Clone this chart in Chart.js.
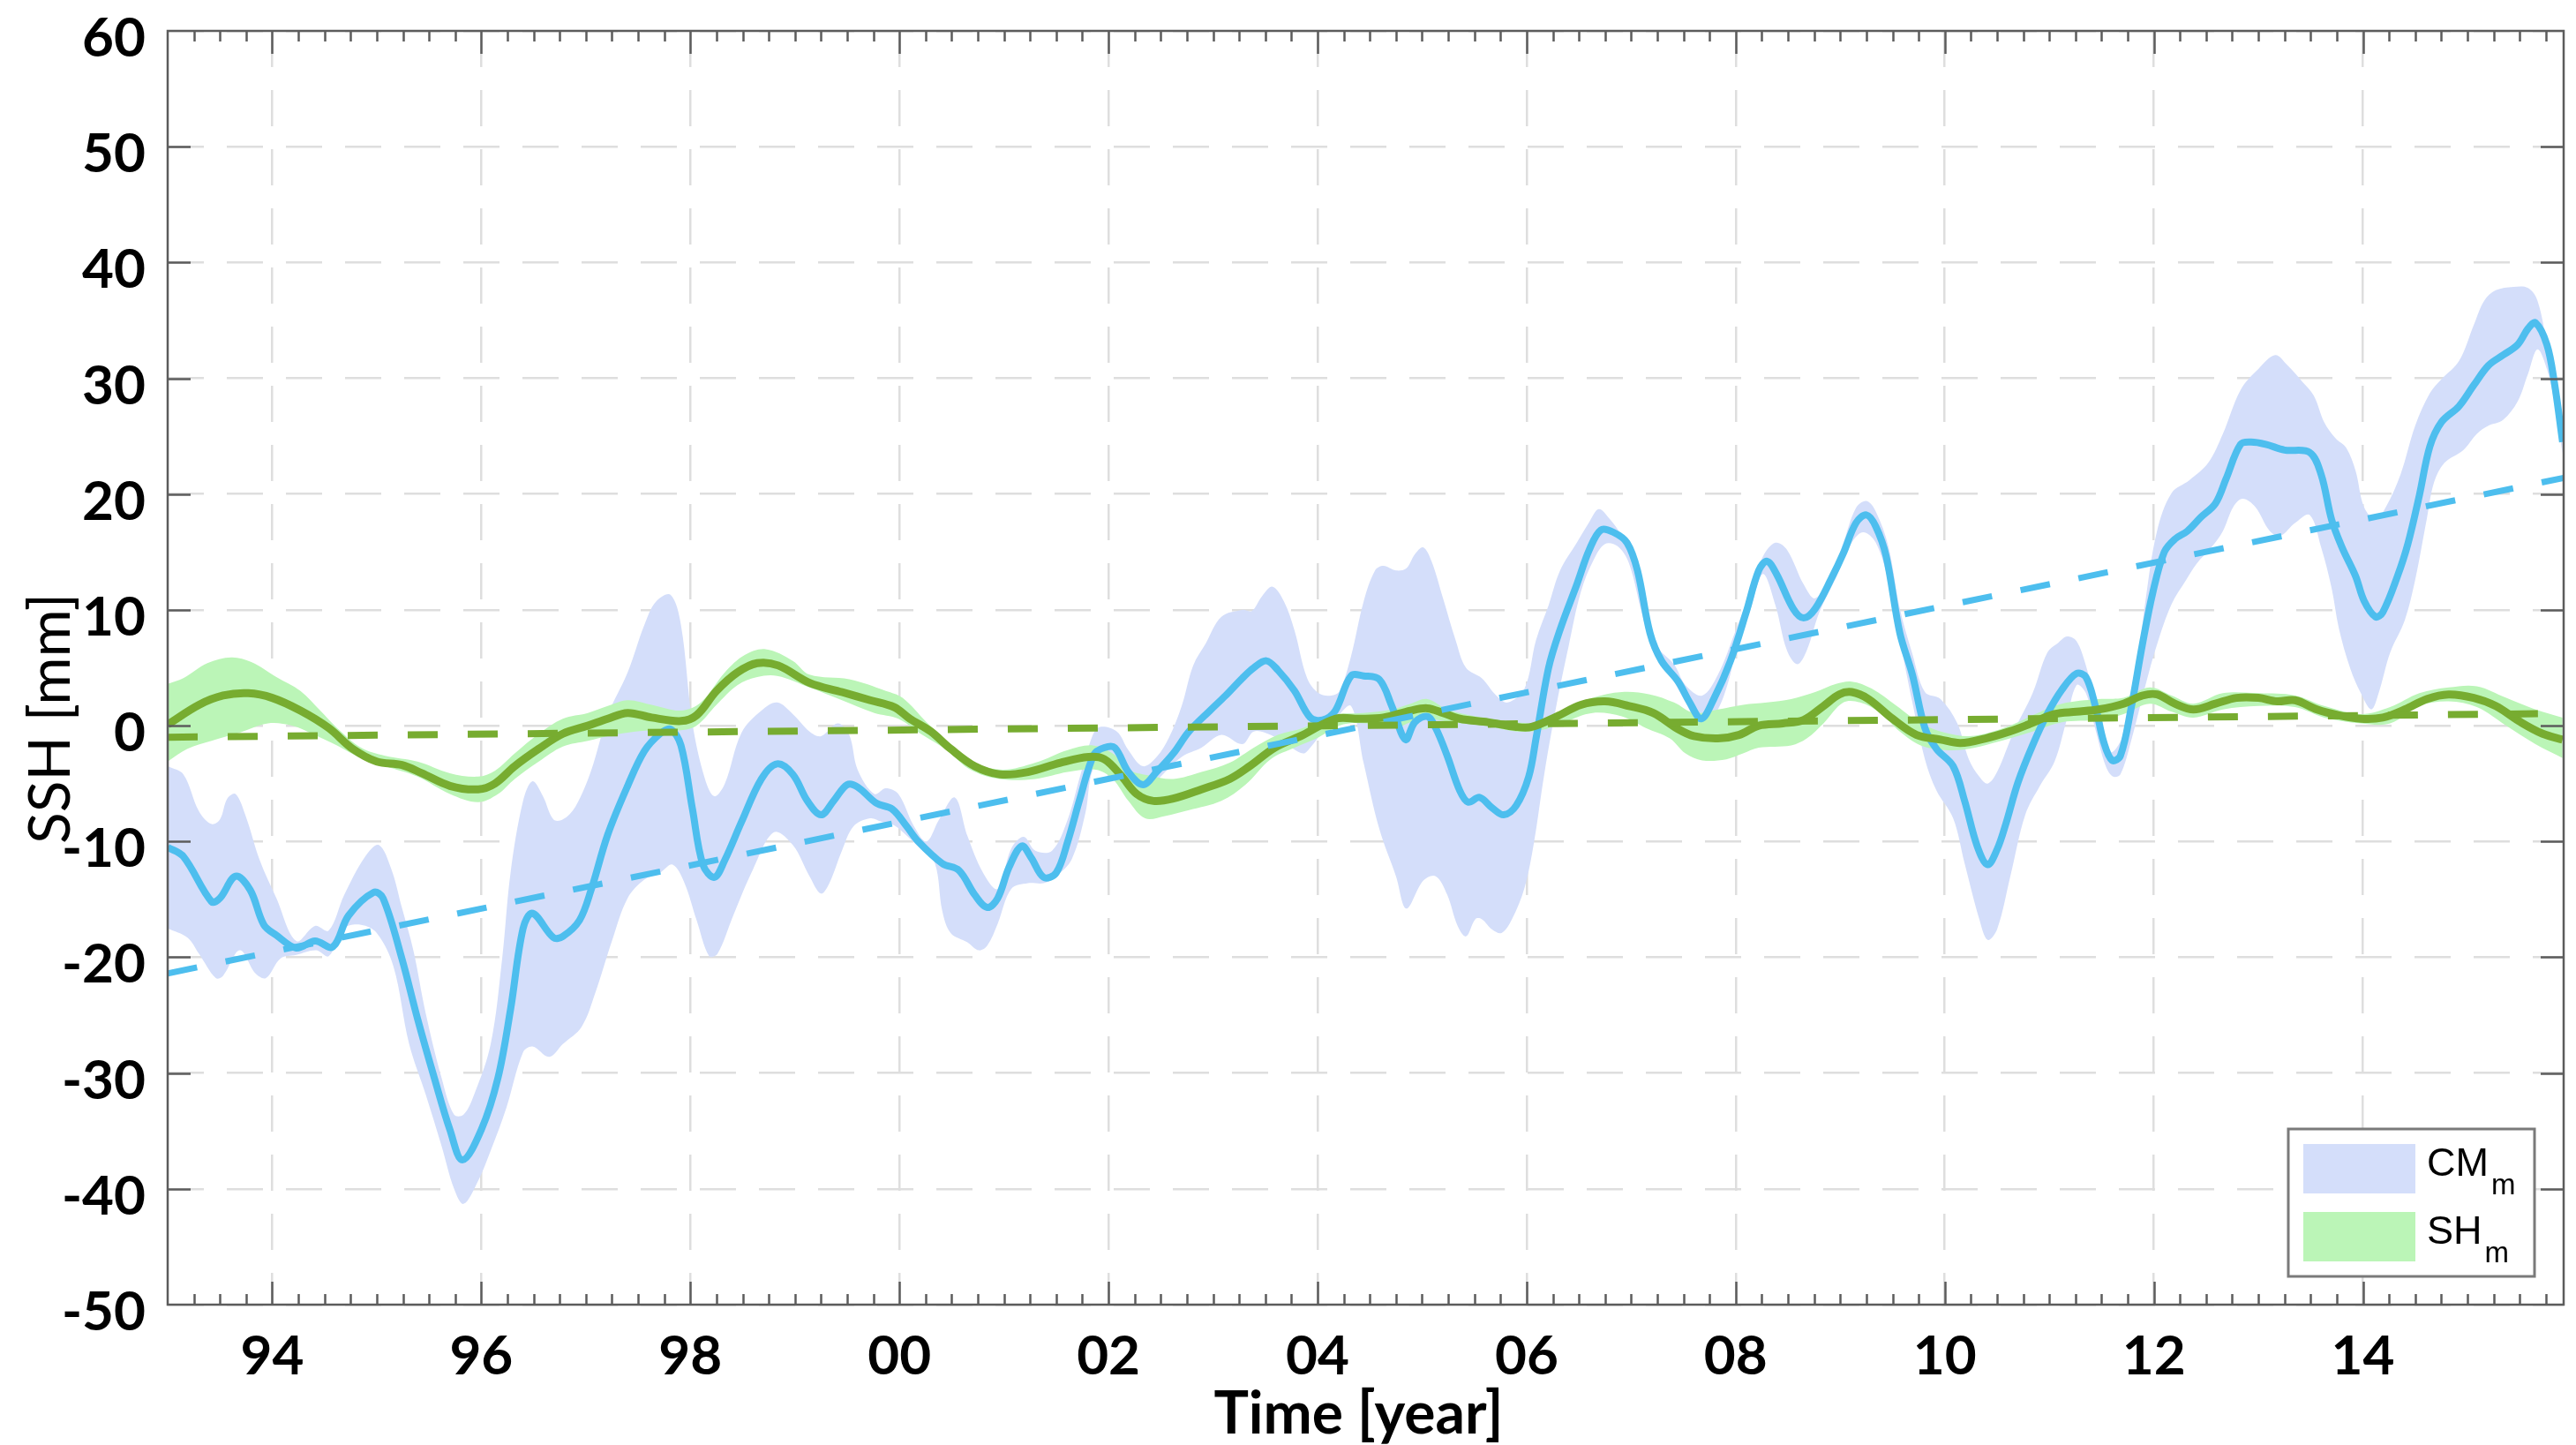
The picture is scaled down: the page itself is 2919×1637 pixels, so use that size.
<!DOCTYPE html>
<html>
<head>
<meta charset="utf-8">
<script src="https://cdn.jsdelivr.net/npm/chart.js@4.4.1/dist/chart.umd.min.js"></script>
<style>
  html, body { margin: 0; padding: 0; background: #fff; }
  #wrap { width: 2919px; height: 1637px; position: relative; }
</style>
</head>
<body>
<div id="wrap"><canvas id="ssh"></canvas></div>
<script>
// CM_m mean curve (decimal year, mm)
const cmYears = [1993.00,1993.15,1993.42,1993.50,1993.65,1993.79,1993.92,1994.04,1994.23,1994.41,1994.58,1994.73,1994.97,1995.06,1995.24,1995.39,1995.55,1995.70,1995.82,1996.00,1996.16,1996.28,1996.40,1996.49,1996.69,1996.78,1996.94,1997.05,1997.21,1997.40,1997.56,1997.71,1997.81,1997.91,1998.02,1998.12,1998.23,1998.33,1998.49,1998.68,1998.83,1998.98,1999.12,1999.25,1999.37,1999.50,1999.60,1999.78,1999.93,2000.07,2000.18,2000.41,2000.57,2000.72,2000.84,2000.94,2001.05,2001.17,2001.26,2001.38,2001.50,2001.61,2001.73,2001.86,2001.96,2002.06,2002.19,2002.33,2002.46,2002.62,2002.77,2002.97,2003.12,2003.28,2003.39,2003.51,2003.62,2003.78,2003.93,2004.05,2004.17,2004.32,2004.44,2004.59,2004.71,2004.84,2004.93,2005.05,2005.13,2005.24,2005.36,2005.44,2005.55,2005.67,2005.78,2005.90,2006.02,2006.09,2006.21,2006.32,2006.48,2006.60,2006.71,2006.83,2006.96,2007.06,2007.18,2007.29,2007.45,2007.56,2007.67,2007.79,2007.95,2008.10,2008.22,2008.30,2008.39,2008.55,2008.65,2008.76,2008.92,2009.03,2009.15,2009.25,2009.34,2009.44,2009.57,2009.69,2009.81,2009.92,2010.08,2010.19,2010.31,2010.41,2010.50,2010.58,2010.70,2010.84,2010.98,2011.12,2011.26,2011.35,2011.44,2011.52,2011.60,2011.68,2011.78,2011.89,2011.99,2012.10,2012.20,2012.32,2012.45,2012.59,2012.69,2012.83,2012.93,2013.07,2013.25,2013.49,2013.60,2013.70,2013.80,2013.93,2014.01,2014.12,2014.19,2014.33,2014.43,2014.54,2014.64,2014.75,2014.92,2015.06,2015.20,2015.34,2015.48,2015.58,2015.65,2015.76,2015.83,2015.91];
const cmValues = [-10.5,-11.3,-15.2,-14.9,-13.0,-14.2,-17.2,-18.1,-19.2,-18.6,-19.1,-16.4,-14.4,-14.9,-20.1,-25.3,-30.4,-34.9,-37.5,-34.9,-30.4,-24.5,-17.5,-16.2,-18.3,-18.2,-16.8,-14.2,-9.4,-5.2,-2.2,-0.7,-0.3,-1.7,-7.2,-12.0,-13.1,-11.6,-8.3,-4.6,-3.3,-4.2,-6.5,-7.7,-6.5,-5.1,-5.3,-6.7,-7.2,-8.7,-10.0,-11.9,-12.5,-14.6,-15.7,-14.9,-12.2,-10.4,-11.4,-13.1,-12.7,-10.0,-6.2,-2.5,-1.9,-1.9,-4.0,-5.1,-4.0,-2.4,-0.5,1.3,2.6,4.1,5.0,5.6,4.8,3.0,0.7,0.5,1.3,4.3,4.3,4.0,1.7,-1.2,0.3,0.8,-0.2,-2.6,-5.6,-6.6,-6.2,-7.1,-7.7,-6.9,-4.4,-1.1,5.0,8.3,12.2,15.2,16.9,16.7,15.8,13.4,8.0,5.6,3.8,2.0,0.6,2.3,5.6,9.8,13.4,14.2,13.1,10.1,9.3,10.1,12.8,14.9,17.5,18.2,17.2,14.6,8.0,4.4,-0.2,-2.0,-3.5,-6.5,-10.4,-12.0,-10.7,-8.6,-4.9,-1.7,1.0,3.1,4.5,4.2,1.7,-1.4,-3.0,-2.6,1.4,7.0,11.5,15.0,16.1,16.8,18.0,19.2,21.3,24.3,24.5,24.3,23.8,23.6,21.7,17.8,15.4,12.9,10.8,9.4,9.8,12.9,15.7,19.9,24.1,26.2,27.6,29.4,31.1,32.0,32.9,34.3,34.8,32.9,29.7,24.5];

// CM_m envelope, upper edge
const cmUpYears = [1993.00,1993.15,1993.30,1993.42,1993.50,1993.57,1993.65,1993.75,1993.88,1994.04,1994.23,1994.41,1994.54,1994.69,1994.89,1995.02,1995.14,1995.24,1995.35,1995.47,1995.62,1995.74,1995.83,1995.93,1996.09,1996.20,1996.28,1996.40,1996.49,1996.59,1996.69,1996.78,1996.90,1997.05,1997.21,1997.40,1997.56,1997.67,1997.81,1997.91,1998.02,1998.14,1998.23,1998.33,1998.49,1998.68,1998.83,1998.98,1999.14,1999.25,1999.41,1999.52,1999.60,1999.76,1999.87,1999.99,2000.14,2000.26,2000.38,2000.53,2000.65,2000.80,2000.94,2001.07,2001.19,2001.30,2001.46,2001.61,2001.73,2001.85,2001.92,2002.08,2002.19,2002.33,2002.46,2002.58,2002.70,2002.81,2002.93,2003.08,2003.28,2003.37,2003.47,2003.57,2003.68,2003.78,2003.90,2004.01,2004.13,2004.21,2004.32,2004.44,2004.55,2004.63,2004.75,2004.85,2004.93,2005.01,2005.09,2005.20,2005.32,2005.42,2005.57,2005.71,2005.82,2005.98,2006.09,2006.21,2006.32,2006.48,2006.60,2006.69,2006.79,2006.91,2007.02,2007.14,2007.25,2007.41,2007.52,2007.68,2007.83,2007.99,2008.14,2008.26,2008.38,2008.49,2008.65,2008.76,2008.92,2009.03,2009.15,2009.25,2009.34,2009.46,2009.57,2009.69,2009.81,2009.96,2010.12,2010.23,2010.33,2010.41,2010.50,2010.66,2010.84,2010.98,2011.09,2011.17,2011.26,2011.35,2011.44,2011.54,2011.60,2011.71,2011.82,2011.92,2012.03,2012.17,2012.34,2012.52,2012.66,2012.83,2013.00,2013.16,2013.28,2013.42,2013.53,2013.63,2013.74,2013.84,2013.93,2014.01,2014.12,2014.22,2014.36,2014.50,2014.64,2014.75,2014.92,2015.06,2015.16,2015.27,2015.44,2015.58,2015.67,2015.76,2015.83,2015.91];
const cmUpValues = [-3.5,-4.2,-7.4,-8.5,-8.1,-6.3,-5.9,-7.9,-11.6,-14.9,-18.6,-17.3,-17.7,-14.6,-11.3,-10.3,-12.4,-15.7,-19.4,-24.9,-30.4,-33.6,-33.6,-31.9,-27.5,-20.1,-12.7,-6.5,-4.8,-6.1,-8.1,-8.1,-7.0,-3.9,0.9,4.6,8.7,10.7,11.3,8.7,0.2,-4.6,-6.1,-5.0,-0.6,1.3,2.0,1.0,-0.5,-0.9,0.2,-0.8,-3.8,-5.9,-5.4,-5.9,-8.7,-10.0,-8.1,-6.2,-9.5,-12.7,-14.1,-10.6,-9.6,-10.8,-10.8,-8.1,-4.3,-0.8,-0.1,-0.5,-2.1,-3.5,-2.7,-1.0,1.7,5.2,7.1,9.4,10.0,9.9,11.2,12.0,10.7,8.2,4.1,2.8,2.6,3.0,6.0,10.7,13.4,13.8,13.4,13.6,14.8,15.4,14.2,11.0,7.4,5.0,4.1,2.6,2.0,3.2,7.4,10.4,13.4,15.8,17.6,18.7,17.9,16.4,14.3,9.2,6.8,5.3,3.5,2.6,4.4,8.0,11.6,14.6,15.8,15.2,12.2,11.0,13.1,15.8,18.8,19.4,18.5,15.5,10.1,6.2,2.9,2.3,0.2,-2.9,-4.4,-5.0,-4.0,-0.5,2.8,6.3,7.2,7.7,7.3,5.2,2.1,-1.4,-2.3,-0.7,3.8,10.8,16.8,20.1,21.2,22.7,25.2,29.0,30.8,32.0,31.1,29.7,28.5,26.2,24.8,24.0,22.0,18.9,17.8,18.9,21.7,25.9,28.7,29.9,31.5,34.6,36.7,37.6,37.9,37.8,36.7,32.9,29.0,25.5];

// CM_m envelope, lower edge
const cmLoYears = [1993.00,1993.19,1993.30,1993.46,1993.53,1993.69,1993.84,1993.94,1994.08,1994.23,1994.42,1994.54,1994.69,1994.85,1995.00,1995.16,1995.31,1995.47,1995.62,1995.74,1995.83,1995.97,1996.09,1996.24,1996.40,1996.49,1996.65,1996.78,1996.96,1997.09,1997.25,1997.40,1997.56,1997.71,1997.83,1997.94,1998.06,1998.18,1998.26,1998.41,1998.60,1998.80,1998.98,1999.14,1999.25,1999.33,1999.45,1999.56,1999.72,1999.83,1999.95,2000.07,2000.22,2000.34,2000.41,2000.49,2000.65,2000.76,2000.84,2000.94,2001.07,2001.23,2001.38,2001.50,2001.65,2001.78,2001.85,2001.96,2002.12,2002.23,2002.35,2002.50,2002.70,2002.89,2003.08,2003.28,2003.39,2003.55,2003.70,2003.86,2003.93,2004.05,2004.17,2004.32,2004.44,2004.59,2004.75,2004.85,2005.01,2005.13,2005.24,2005.34,2005.42,2005.51,2005.57,2005.67,2005.76,2005.86,2005.98,2006.07,2006.17,2006.29,2006.40,2006.52,2006.64,2006.75,2006.87,2006.98,2007.10,2007.22,2007.37,2007.52,2007.66,2007.79,2007.91,2008.03,2008.14,2008.26,2008.38,2008.49,2008.59,2008.68,2008.80,2008.96,2009.11,2009.22,2009.34,2009.46,2009.57,2009.69,2009.81,2009.92,2010.08,2010.19,2010.33,2010.41,2010.50,2010.63,2010.77,2010.91,2011.05,2011.16,2011.26,2011.35,2011.44,2011.54,2011.61,2011.68,2011.78,2011.92,2012.03,2012.17,2012.31,2012.41,2012.55,2012.66,2012.76,2012.85,2012.97,2013.11,2013.21,2013.35,2013.49,2013.60,2013.70,2013.77,2013.88,2013.98,2014.08,2014.15,2014.26,2014.40,2014.50,2014.61,2014.68,2014.78,2014.96,2015.09,2015.20,2015.34,2015.48,2015.58,2015.67,2015.76,2015.83,2015.91];
const cmLoValues = [-17.5,-18.3,-19.7,-21.8,-21.6,-19.4,-21.4,-21.8,-20.1,-19.8,-19.4,-19.9,-17.5,-17.2,-17.9,-20.8,-27.5,-31.9,-36.3,-40.0,-41.3,-39.3,-36.7,-33.0,-28.2,-27.7,-28.6,-27.5,-26.0,-23.1,-18.6,-14.9,-13.3,-12.7,-12.0,-13.5,-16.8,-19.9,-19.7,-16.4,-12.4,-9.2,-10.3,-13.0,-14.5,-13.6,-10.8,-8.7,-8.0,-8.3,-8.6,-9.5,-10.8,-11.9,-16.0,-17.9,-18.7,-19.4,-19.0,-17.1,-14.1,-13.6,-13.6,-13.0,-11.5,-7.5,-3.8,-3.5,-4.8,-5.4,-5.8,-4.4,-2.7,-1.9,-0.8,-1.6,-0.5,-0.8,-1.6,-2.4,-1.9,-0.5,0.6,1.7,-3.2,-8.9,-13.0,-15.8,-13.4,-13.0,-14.6,-17.3,-18.2,-16.7,-16.7,-17.6,-17.9,-16.7,-14.0,-10.1,-4.1,2.0,6.8,11.6,14.3,15.7,15.5,14.0,9.8,6.2,4.4,2.0,0.0,0.8,3.2,7.4,10.0,13.1,10.4,6.5,5.3,6.5,9.8,12.8,15.8,16.7,15.8,12.5,7.4,2.0,-2.9,-5.6,-8.0,-11.9,-16.7,-18.5,-17.6,-12.9,-7.7,-5.2,-3.1,0.3,3.5,2.8,-0.3,-3.5,-4.4,-4.2,-1.4,3.5,7.0,10.5,12.6,14.0,15.4,16.8,18.9,19.6,18.9,16.8,16.4,17.5,18.2,15.4,11.9,8.4,4.9,2.8,1.4,2.8,6.3,9.1,12.6,17.8,21.0,22.7,23.8,25.2,25.9,26.4,28.0,30.4,32.5,30.8,28.0,23.5];

// SH_m mean curve
const shYears = [1993.00,1993.30,1993.53,1993.77,1994.00,1994.27,1994.54,1994.77,1995.00,1995.24,1995.43,1995.70,1995.97,1996.13,1996.32,1996.55,1996.78,1997.02,1997.21,1997.40,1997.63,1997.91,1998.06,1998.25,1998.45,1998.64,1998.84,1999.14,1999.45,1999.72,1999.95,2000.10,2000.30,2000.49,2000.72,2000.96,2001.23,2001.54,2001.81,2001.96,2002.12,2002.27,2002.43,2002.62,2002.89,2003.16,2003.35,2003.59,2003.86,2004.17,2004.40,2004.63,2004.89,2005.05,2005.20,2005.36,2005.63,2005.90,2006.05,2006.29,2006.52,2006.75,2006.98,2007.21,2007.45,2007.60,2007.83,2008.03,2008.22,2008.45,2008.65,2008.84,2008.99,2009.11,2009.27,2009.50,2009.73,2009.96,2010.15,2010.39,2010.62,2010.80,2011.05,2011.26,2011.47,2011.71,2011.89,2012.03,2012.20,2012.38,2012.59,2012.79,2013.00,2013.18,2013.35,2013.56,2013.77,2013.98,2014.19,2014.40,2014.61,2014.82,2015.06,2015.27,2015.51,2015.72,2015.91];
const shValues = [0.1,1.8,2.6,2.8,2.4,1.3,-0.2,-2.0,-3.1,-3.4,-4.1,-5.2,-5.5,-5.0,-3.5,-2.0,-0.7,0.0,0.6,1.1,0.7,0.4,0.9,3.0,4.6,5.4,5.2,3.7,2.9,2.2,1.6,0.6,-0.5,-2.0,-3.5,-4.2,-4.0,-3.2,-2.7,-2.9,-4.3,-5.9,-6.5,-6.3,-5.5,-4.6,-3.5,-1.9,-0.8,0.6,0.6,0.7,1.3,1.5,1.1,0.6,0.3,-0.1,-0.1,0.8,1.8,2.1,1.7,1.1,-0.3,-0.9,-1.1,-0.8,0.0,0.2,0.5,1.7,2.7,2.9,2.3,0.6,-0.8,-1.2,-1.5,-1.1,-0.5,0.1,1.0,1.2,1.4,1.9,2.6,2.7,1.9,1.4,1.9,2.4,2.4,2.1,2.2,1.4,0.9,0.6,0.7,1.4,2.3,2.7,2.4,1.7,0.3,-0.7,-1.2];

// SH_m envelope, upper edge
const shUpYears = [1993.00,1993.15,1993.38,1993.61,1993.80,1994.04,1994.27,1994.46,1994.62,1994.85,1995.08,1995.39,1995.70,1995.97,1996.13,1996.32,1996.55,1996.78,1997.02,1997.21,1997.40,1997.63,1997.91,1998.10,1998.33,1998.52,1998.72,1998.98,1999.14,1999.52,1999.87,2000.03,2000.26,2000.49,2000.72,2000.99,2001.30,2001.61,2001.85,2002.04,2002.19,2002.39,2002.62,2002.89,2003.16,2003.39,2003.62,2003.86,2004.13,2004.44,2004.71,2004.89,2005.05,2005.24,2005.51,2005.90,2006.13,2006.36,2006.63,2006.91,2007.18,2007.41,2007.60,2007.83,2008.07,2008.30,2008.53,2008.76,2008.96,2009.11,2009.30,2009.54,2009.77,2010.00,2010.23,2010.46,2010.70,2010.84,2011.12,2011.47,2011.71,2011.96,2012.17,2012.38,2012.66,2013.00,2013.35,2013.63,2013.98,2014.26,2014.54,2014.82,2015.09,2015.37,2015.65,2015.91];
const shUpValues = [3.6,4.1,5.4,5.9,5.5,4.2,3.0,1.3,-0.2,-1.9,-2.6,-3.1,-4.1,-4.4,-3.9,-2.4,-0.7,0.6,1.1,1.7,2.2,1.8,1.3,2.0,4.6,6.1,6.6,5.6,4.4,4.0,3.0,2.4,0.3,-1.6,-3.2,-3.8,-3.2,-2.1,-1.7,-2.4,-3.8,-4.3,-4.6,-4.0,-3.2,-1.9,-0.8,-0.2,0.9,1.1,1.4,1.9,2.3,1.4,0.8,0.3,0.3,1.4,2.4,2.9,2.7,2.0,1.1,1.4,1.8,2.0,2.3,2.9,3.6,3.8,3.2,1.7,0.2,-0.6,-0.9,-0.5,0.3,0.9,1.9,2.3,2.4,3.3,2.6,1.9,2.8,2.8,2.6,1.7,1.0,1.6,2.8,3.3,3.4,2.4,1.4,0.7];

// SH_m envelope, lower edge
const shLoYears = [1993.00,1993.19,1993.42,1993.69,1993.96,1994.19,1994.38,1994.62,1994.85,1995.08,1995.39,1995.70,1995.97,1996.16,1996.32,1996.55,1996.78,1997.02,1997.21,1997.40,1997.63,1997.91,1998.06,1998.25,1998.45,1998.64,1998.83,1999.14,1999.45,1999.76,1999.99,2000.22,2000.45,2000.68,2000.96,2001.30,2001.61,2001.88,2002.04,2002.19,2002.35,2002.54,2002.77,2003.08,2003.31,2003.55,2003.78,2004.01,2004.24,2004.47,2004.74,2004.89,2005.05,2005.28,2005.59,2005.90,2006.13,2006.36,2006.63,2006.91,2007.14,2007.37,2007.52,2007.68,2007.91,2008.07,2008.22,2008.53,2008.68,2008.84,2009.03,2009.19,2009.38,2009.57,2009.77,2010.00,2010.23,2010.46,2010.84,2011.12,2011.47,2011.71,2011.96,2012.17,2012.38,2012.66,2013.00,2013.35,2013.63,2013.98,2014.26,2014.54,2014.82,2015.09,2015.37,2015.65,2015.91];
const shLoValues = [-3.1,-2.0,-1.3,-0.6,0.2,0.0,-0.7,-1.7,-2.8,-3.5,-4.4,-5.9,-6.6,-5.9,-4.6,-3.1,-1.8,-1.3,-0.9,-0.6,-0.4,-0.4,0.0,1.8,3.5,4.2,4.3,3.3,2.2,1.1,0.6,-0.8,-2.1,-3.8,-4.6,-4.6,-4.0,-3.8,-4.6,-6.5,-8.0,-7.8,-7.3,-6.5,-5.1,-2.9,-1.9,-1.0,0.1,0.2,-0.2,0.3,0.6,0.3,0.0,-0.5,-0.4,0.3,1.1,0.8,-0.2,-1.1,-2.4,-3.0,-2.9,-2.4,-1.9,-1.7,-1.1,0.2,2.0,2.0,1.1,-0.5,-1.7,-2.1,-2.0,-1.5,-0.5,0.3,0.5,1.0,1.9,1.2,0.7,1.4,1.7,1.6,0.7,0.2,0.2,1.7,2.1,1.6,0.0,-1.6,-2.8];

// linear trends (start / end of record)
const trendYears = [1993.0, 2015.92];
const cmTrend = [-21.4, 21.4];
const shTrend = [-1.0, 1.05];

// axes
const xMin = 1993.0, xMax = 2015.92;
const yMin = -50, yMax = 60;

const blueLine = '#4dbeee';
const greenLine = '#77ac30';
const blueBand = '#d4defa';
const greenBand = '#bbf5b7';
const axisGray = '#5c5c5c';

const pts = (xs, ys) => xs.map((x, i) => ({ x: x, y: ys[i] }));

// box, inward ticks (quarter-year minors on x), like the matlab axes
const axesBox = {
    id: 'axesBox',
    afterDatasetsDraw(chart) {
        const { ctx, chartArea: a, scales: { x, y } } = chart;
        ctx.save();
        ctx.strokeStyle = axisGray;
        ctx.lineWidth = 2.5;
        ctx.beginPath();
        for (let i = 1; 1993 + i * 0.25 < x.max; i++) {
            const v = 1993 + i * 0.25;
            const px = Math.round(x.getPixelForValue(v)) + 0.5;
            const len = (i % 8 === 4) ? 26 : 12;
            ctx.moveTo(px, a.bottom); ctx.lineTo(px, a.bottom - len);
            ctx.moveTo(px, a.top); ctx.lineTo(px, a.top + len);
        }
        for (let v = yMin + 10; v < yMax; v += 10) {
            const py = Math.round(y.getPixelForValue(v)) + 0.5;
            ctx.moveTo(a.left, py); ctx.lineTo(a.left + 26, py);
            ctx.moveTo(a.right, py); ctx.lineTo(a.right - 26, py);
        }
        ctx.stroke();
        ctx.strokeRect(a.left, a.top, a.right - a.left, a.bottom - a.top);
        ctx.restore();
    },
    afterDraw(chart) {
        const { ctx, chartArea: a } = chart;
        ctx.save();
        // axis titles
        ctx.fillStyle = '#000';
        ctx.textAlign = 'center';
        ctx.textBaseline = 'middle';
        ctx.font = '700 66px Lato';
        ctx.fillText('Time [year]', (a.left + a.right) / 2 - 8, 1603);
        ctx.translate(58, 814);
        ctx.rotate(-Math.PI / 2);
        ctx.font = '400 66px Lato';
        ctx.fillText('SSH [mm]', 0, 0);
        ctx.restore();

        // legend with subscripts
        ctx.save();
        const bx = a.right - 312, by = a.bottom - 199, bw = 279, bh = 167;
        ctx.fillStyle = '#fff';
        ctx.fillRect(bx, by, bw, bh);
        ctx.strokeStyle = '#7a7a7a';
        ctx.lineWidth = 3;
        ctx.strokeRect(bx, by, bw, bh);
        const rows = [[blueBand, 'CM'], [greenBand, 'SH']];
        rows.forEach((r, i) => {
            const sy = by + 17 + i * 77;
            ctx.fillStyle = r[0];
            ctx.fillRect(bx + 17, sy, 127, 56);
            ctx.fillStyle = '#000';
            ctx.textAlign = 'left';
            ctx.textBaseline = 'alphabetic';
            ctx.font = '45px "Liberation Sans"';
            ctx.fillText(r[1], bx + 157, sy + 36);
            const w = ctx.measureText(r[1]).width;
            ctx.font = '33px "Liberation Sans"';
            ctx.fillText('m', bx + 160 + w, sy + 57);
        });
        ctx.restore();
    }
};

const ctx = document.getElementById('ssh').getContext('2d');
new Chart(ctx, {
    type: 'line',
    data: {
        datasets: [
            { data: pts(cmUpYears, cmUpValues), fill: '+1', backgroundColor: blueBand, borderWidth: 0, order: 6 },
            { data: pts(cmLoYears, cmLoValues), fill: false, borderWidth: 0, order: 6 },
            { data: pts(shUpYears, shUpValues), fill: '+1', backgroundColor: greenBand, borderWidth: 0, order: 5 },
            { data: pts(shLoYears, shLoValues), fill: false, borderWidth: 0, order: 5 },
            { label: 'CM_m', data: pts(cmYears, cmValues), borderColor: blueLine, borderWidth: 8, order: 4 },
            { label: 'SH_m', data: pts(shYears, shValues), borderColor: greenLine, borderWidth: 9, order: 3 },
            { data: pts(trendYears, cmTrend), borderColor: blueLine, borderWidth: 7, borderDash: [34, 33], tension: 0, order: 2 },
            { data: pts(trendYears, shTrend), borderColor: greenLine, borderWidth: 8, borderDash: [34, 34], tension: 0, order: 1 }
        ]
    },
    options: {
        responsive: true,
        maintainAspectRatio: false,
        animation: false,
        events: [],
        layout: { padding: { left: 0, top: 35, right: 14, bottom: 0 } },
        elements: {
            point: { radius: 0 },
            line: { tension: 0.35, borderCapStyle: 'butt' }
        },
        plugins: {
            legend: { display: false },
            tooltip: { enabled: false }
        },
        scales: {
            x: {
                type: 'linear',
                min: xMin,
                max: xMax,
                afterFit: (s) => { s.height = 159; s.paddingLeft = 0; s.paddingRight = 0; },
                ticks: {
                    stepSize: 2,
                    includeBounds: false,
                    padding: 22,
                    color: '#000',
                    font: { family: 'Lato', size: 62, weight: '700' },
                    callback: (v) => String(v % 100).padStart(2, '0')
                },
                grid: { color: '#dedede', lineWidth: 2.5, drawTicks: false },
                border: { display: false, dash: [41, 26] }
            },
            y: {
                min: yMin,
                max: yMax,
                afterFit: (s) => { s.width = 190; s.paddingTop = 0; s.paddingBottom = 0; },
                ticks: {
                    stepSize: 10,
                    padding: 25,
                    labelOffset: 9,
                    color: '#000',
                    font: { family: 'Lato', size: 62, weight: '700' }
                },
                grid: { color: '#dedede', lineWidth: 2.5, drawTicks: false },
                border: { display: false, dash: [41, 26] }
            }
        }
    },
    plugins: [axesBox]
});
</script>
</body>
</html>
